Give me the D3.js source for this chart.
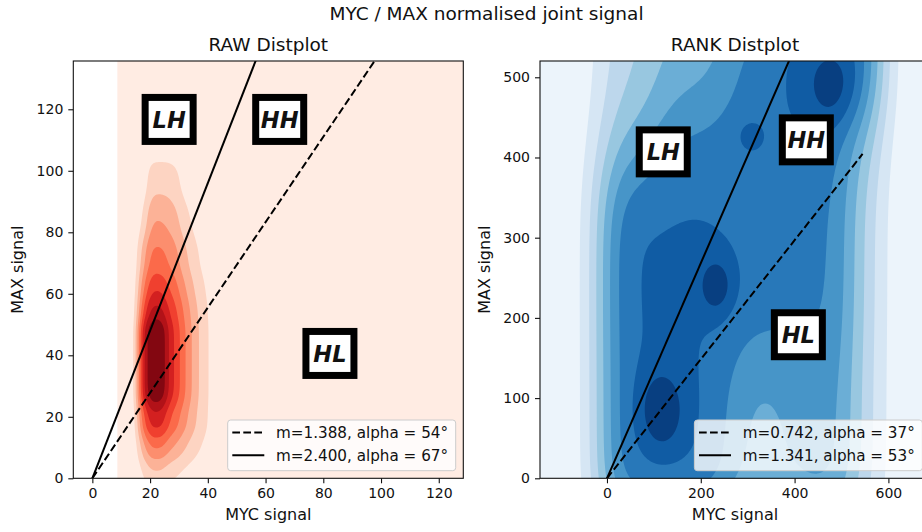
<!DOCTYPE html>
<html>
<head>
<meta charset="utf-8">
<script src="https://cdn.jsdelivr.net/npm/d3@7"></script>
<style>
  body { margin: 0; background: #fff; }
  svg { display: block; }
  text { font-family: "DejaVu Sans", sans-serif; fill: #111; }
</style>
</head>
<body>
<div id="chart"></div>
<script>
// ---- chart values ----
const suptitle = "MYC / MAX normalised joint signal"
const panelTitles = ["RAW Distplot", "RANK Distplot"]
const xLabel = "MYC signal", yLabel = "MAX signal"

const rawXTicks = [0, 20, 40, 60, 80, 100, 120]
const rawYTicks = [0, 20, 40, 60, 80, 100, 120]
const rankXTicks = [0, 200, 400, 600]
const rankYTicks = [0, 100, 200, 300, 400, 500]

// fitted slopes (dashed first, then solid) and their angles
const rawSlopes = [1.388, 2.400]
const rawAngles = [54, 67]
const rankSlopes = [0.742, 1.341]
const rankAngles = [37, 53]
const rawLineEnd = 128
const rankLineEnd = 545

// quadrant tags
const quadNames = ["LH", "HH", "HL"]
const rawQuadX = [26.6, 64.9, 82.3]
const rawQuadY = [116.7, 116.7, 40.6]
const rankQuadX = [120, 425, 408]
const rankQuadY = [407, 422, 179]

// RAW joint density: level map (share of the peak)
// on soft-edged tiles; cut positions with their edge softness
const rawColCuts = [16, 19, 25.5, 30, 35, 41]
const rawColEdge = [1.7, 1.5, 1.6, 2.4, 2.6, 2.6]
const rawRowCuts = [-3, 6, 14, 24, 51, 58, 66, 78, 90, 104]
const rawRowEdge = [3, 3, 3, 3, 2.5, 3, 3.5, 4, 4, 4]
const rawLevelRows = [
    [0.12, 0.20, 0.14, 0.08, 0.03],
    [0.30, 0.45, 0.35, 0.22, 0.10],
    [0.55, 0.72, 0.55, 0.35, 0.16],
    [0.80, 1.00, 0.72, 0.43, 0.17],
    [0.60, 0.82, 0.65, 0.40, 0.16],
    [0.45, 0.65, 0.55, 0.33, 0.13],
    [0.30, 0.48, 0.42, 0.24, 0.08],
    [0.12, 0.33, 0.30, 0.14, 0.03],
    [0.03, 0.18, 0.18, 0.05, 0.00]
]

// RANK joint density: coarse level map on soft-edged tiles ...
const rankColCuts = [-15, 100, 260, 380, 520, 585]
const rankColEdge = [40, 45, 45, 45, 35, 35]
const rankRowCuts = [-60, 160, 380, 460, 620]
const rankRowEdge = [45, 60, 50, 50, 45]
const rankLevelRows = [
    [0.78, 0.80, 0.50, 0.62, 0.28],
    [0.80, 0.80, 0.76, 0.70, 0.30],
    [0.45, 0.72, 0.80, 0.75, 0.40],
    [0.30, 0.50, 0.72, 0.85, 0.80]
]
// ... plus the darkest blobs (centre, spread, extra weight)
const rankBlobX = [116, 233, 305, 482]
const rankBlobY = [85, 240, 428, 485]
const rankBlobSX = [32, 26, 18, 40]
const rankBlobSY = [34, 25, 12, 34]
const rankBlobW = [0.22, 0.2, 0.08, 0.15]

// ---- drawing ----
const svg = d3.select("#chart").append("svg")
    .attr("width", 922)
    .attr("height", 532)

svg.append("text")
    .attr("x", 486.5).attr("y", 20)
    .attr("text-anchor", "middle")
    .style("font-size", "18.5px")
    .text(suptitle)

function phi(z) {
    let t = 1 / (1 + 0.3275911 * Math.abs(z) / Math.SQRT2)
    let e = 1 - (((((1.061405429 * t - 1.453152027) * t) + 1.421413741) * t - 0.284496736) * t + 0.254829592) * t * Math.exp(-z * z / 2)
    return z >= 0 ? 0.5 * (1 + e) : 0.5 * (1 - e)
}

// share of tile j at position v (soft edges, tiles sum to 1 inside)
function tileShare(cuts, edge, j, v) {
    return phi((v - cuts[j]) / edge[j]) - phi((v - cuts[j + 1]) / edge[j + 1])
}

function drawPanel(o) {
    let {left, right, top, bottom} = o.box
    let x = d3.scaleLinear().domain(o.xDomain).range([left, right])
    let y = d3.scaleLinear().domain(o.yDomain).range([bottom, top])
    let g = svg.append("g")

    svg.append("clipPath").attr("id", "clip-" + o.id)
        .append("rect")
        .attr("x", left).attr("y", top)
        .attr("width", right - left).attr("height", bottom - top)
    let plot = g.append("g").attr("clip-path", `url(#clip-${o.id})`)

    // density grid
    let [gx0, gx1] = o.gridX, [gy0, gy1] = o.gridY
    let n = o.gridN, m = o.gridM
    let t = o.tiles
    let bx = o.bx || []
    let colShare = d3.range(n).map(i => {
        let xx = gx0 + (i + 0.5) * (gx1 - gx0) / n
        return t.rows[0].map((c, k) => tileShare(t.colCuts, t.colEdge, k, xx))
    })
    let vals = new Float64Array(n * m)
    for (let j = 0; j < m; j++) {
        let yy = gy0 + (j + 0.5) * (gy1 - gy0) / m
        let rowShare = t.rows.map((r, k) => tileShare(t.rowCuts, t.rowEdge, k, yy))
        for (let i = 0; i < n; i++) {
            let xx = gx0 + (i + 0.5) * (gx1 - gx0) / n
            let s = 0
            t.rows.forEach((r, a) => r.forEach((w, b) => { s += w * rowShare[a] * colShare[i][b] }))
            bx.forEach((c, k) => {
                let dx = (xx - c) / o.bsx[k], dy = (yy - o.by[k]) / o.bsy[k]
                s += o.bw[k] * Math.exp(-0.5 * (dx * dx + dy * dy))
            })
            vals[j * n + i] = s
        }
    }
    let maxV = d3.max(vals)
    let K = o.levels
    let thresholds = d3.range(1, K).map(k => k * maxV / K)
    let color = d3.scaleLinear().domain(d3.range(9).map(i => i / 8)).range(o.scheme)

    let gxs = d3.scaleLinear().domain([0, n]).range([gx0, gx1])
    let gys = d3.scaleLinear().domain([0, m]).range([gy0, gy1])
    let path = d3.geoPath(d3.geoTransform({
        point(px, py) { this.stream.point(x(gxs(px)), y(gys(py))) }
    }))

    plot.append("rect")
        .attr("x", x(gx0)).attr("y", y(gy1))
        .attr("width", x(gx1) - x(gx0)).attr("height", y(gy0) - y(gy1))
        .attr("fill", color(0.5 / K))
    plot.selectAll("path.band")
        .data(d3.contours().size([n, m]).thresholds(thresholds)(vals))
        .join("path")
        .attr("class", "band")
        .attr("d", path)
        .attr("fill", (d, i) => color((i + 1.5) / K))

    // slope lines
    let line = d3.line().x(d => x(d[0])).y(d => y(d[1]))
    o.slopes.forEach((s, i) => {
        plot.append("path")
            .attr("d", line([[0, 0], [o.lineEnd, s * o.lineEnd]]))
            .attr("fill", "none")
            .attr("stroke", "#000")
            .attr("stroke-width", 2)
            .attr("stroke-dasharray", i == 0 ? "7.7,3.3" : null)
    })

    // quadrant tags
    quadNames.forEach((q, i) => {
        let tg = g.append("g").attr("transform", `translate(${x(o.qx[i])},${y(o.qy[i])})`)
        tg.append("rect")
            .attr("x", -24).attr("y", -22).attr("width", 48).attr("height", 44)
            .attr("fill", "#fff").attr("stroke", "#000").attr("stroke-width", 7)
        tg.append("text")
            .attr("text-anchor", "middle").attr("dy", "0.36em")
            .style("font-size", "22.5px").style("font-weight", "bold").style("font-style", "italic")
            .text(q)
    })

    // legend
    let lg = g.append("g").attr("transform", `translate(${right - 235.6},420)`)
    lg.append("rect")
        .attr("width", 228).attr("height", 50.7).attr("rx", 3)
        .attr("fill", "#fff").attr("fill-opacity", 0.8)
        .attr("stroke", "#ccc").attr("stroke-width", 1)
    o.slopes.forEach((s, i) => {
        let yy = 12.5 + i * 22.7
        lg.append("line")
            .attr("x1", 4.6).attr("x2", 36.6).attr("y1", yy).attr("y2", yy)
            .attr("stroke", "#000").attr("stroke-width", 2)
            .attr("stroke-dasharray", i == 0 ? "7.7,3.3" : null)
        lg.append("text")
            .attr("x", 48.3).attr("y", yy).attr("dy", "0.35em")
            .style("font-size", "15.2px")
            .text(`m=${s.toFixed(3)}, alpha = ${o.angles[i]}°`)
    })

    // axes
    let ax = g.append("g")
        .attr("transform", `translate(0,${bottom})`)
        .call(d3.axisBottom(x).tickValues(o.xTicks).tickSize(5).tickPadding(4.5).tickSizeOuter(0))
    let ay = g.append("g")
        .attr("transform", `translate(${left},0)`)
        .call(d3.axisLeft(y).tickValues(o.yTicks).tickSize(5).tickPadding(5).tickSizeOuter(0))
    ;[ax, ay].forEach(a => {
        a.select(".domain").remove()
        a.attr("font-size", 14).attr("font-family", "DejaVu Sans").attr("color", "#111")
        a.selectAll("line").attr("stroke-width", 1.1)
    })

    g.append("rect")
        .attr("x", left).attr("y", top)
        .attr("width", right - left).attr("height", bottom - top)
        .attr("fill", "none").attr("stroke", "#111").attr("stroke-width", 1.1)

    g.append("text")
        .attr("x", (left + right) / 2).attr("y", 520)
        .attr("text-anchor", "middle").style("font-size", "16px")
        .text(xLabel)
    g.append("text")
        .attr("transform", `translate(${left - 50},${(top + bottom) / 2}) rotate(-90)`)
        .attr("text-anchor", "middle").style("font-size", "16px")
        .text(yLabel)
    g.append("text")
        .attr("x", (left + right) / 2).attr("y", 51)
        .attr("text-anchor", "middle").style("font-size", "18.5px")
        .text(o.title)
}

drawPanel({
    id: "raw", title: panelTitles[0],
    box: {left: 73.3, right: 463.3, top: 61, bottom: 478.3},
    xDomain: [-6.6, 128.5], yDomain: [0, 135.7],
    xTicks: rawXTicks, yTicks: rawYTicks,
    gridX: [8.66, 145], gridY: [-25, 150], gridN: 300, gridM: 300,
    tiles: {colCuts: rawColCuts, colEdge: rawColEdge, rowCuts: rawRowCuts, rowEdge: rawRowEdge, rows: rawLevelRows},
    levels: 9, scheme: d3.schemeReds[9],
    slopes: rawSlopes, angles: rawAngles, lineEnd: rawLineEnd,
    qx: rawQuadX, qy: rawQuadY
})

drawPanel({
    id: "rank", title: panelTitles[1],
    box: {left: 540, right: 930, top: 61, bottom: 478.3},
    xDomain: [-142.8, 688.7], yDomain: [0, 520.3],
    xTicks: rankXTicks, yTicks: rankYTicks,
    gridX: [-220, 760], gridY: [-120, 660], gridN: 240, gridM: 220,
    tiles: {colCuts: rankColCuts, colEdge: rankColEdge, rowCuts: rankRowCuts, rowEdge: rankRowEdge, rows: rankLevelRows},
    bx: rankBlobX, by: rankBlobY, bsx: rankBlobSX, bsy: rankBlobSY, bw: rankBlobW,
    levels: 9, scheme: d3.schemeBlues[9],
    slopes: rankSlopes, angles: rankAngles, lineEnd: rankLineEnd,
    qx: rankQuadX, qy: rankQuadY
})
</script>
</body>
</html>
